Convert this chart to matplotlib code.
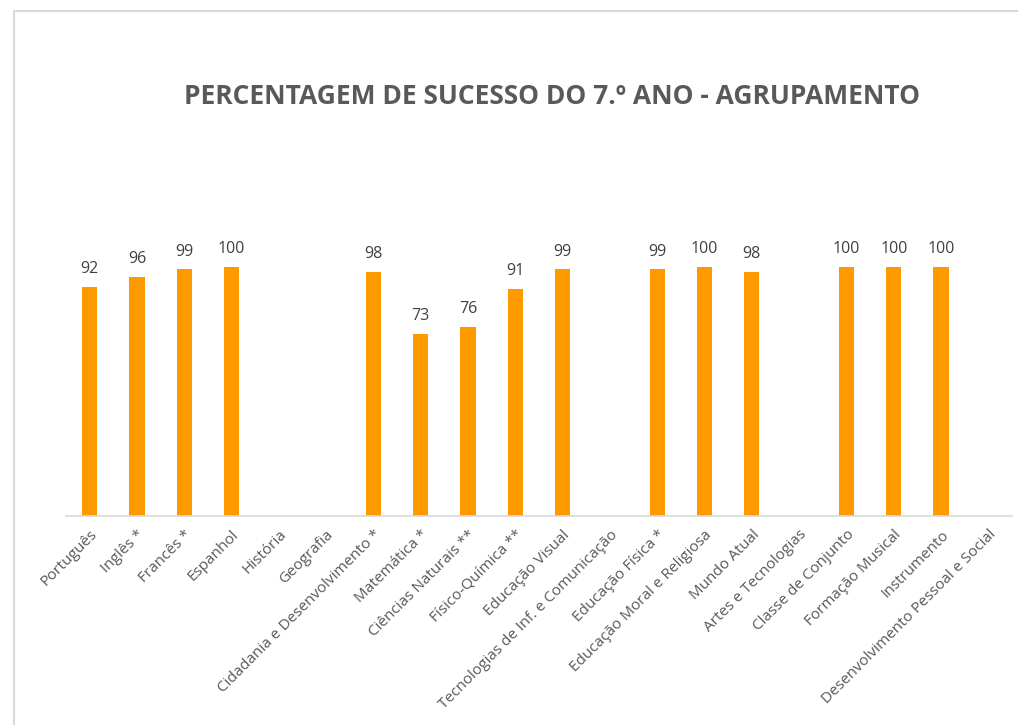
import numpy as np
import matplotlib.pyplot as plt
from matplotlib.patches import Rectangle

disciplinas = ['Português', 'Inglês *', 'Francês *', 'Espanhol', 'História', 'Geografia',
               'Cidadania e Desenvolvimento *', 'Matemática *', 'Ciências Naturais **',
               'Físico-Química **', 'Educação Visual', 'Tecnologias de Inf. e Comunicação',
               'Educação Física *', 'Educação Moral e Religiosa', 'Mundo Atual',
               'Artes e Tecnologias', 'Classe de Conjunto', 'Formação Musical',
               'Instrumento', 'Desenvolvimento Pessoal e Social']
sucesso = [92, 96, 99, 100, None, None, 98, 73, 76, 91, 99, None, 99, 100, 98, None,
           100, 100, 100, None]

plt.rcParams['font.family'] = ['Open Sans', 'DejaVu Sans']

fig = plt.figure(figsize=(10.18, 7.25), dpi=100)
# chart area border
fig.patches.append(Rectangle((14 / 1018, -0.1), 1.2, 1 - 11 / 725 + 0.1,
                             transform=fig.transFigure, fill=False,
                             edgecolor='#d9d9d9', linewidth=1.5))

ax = fig.add_axes([66 / 1018, 1 - 516 / 725, (1012 - 66) / 1018, 298.8 / 725])

x = np.arange(len(disciplinas))
vals = np.array([np.nan if v is None else v for v in sucesso], dtype=float)
bars = ax.bar(x, np.nan_to_num(vals), width=0.32, color='#ff9900')
for xi, v in zip(x, vals):
    if not np.isnan(v):
        ax.text(xi, v + 4, f'{int(v)}', ha='center', va='bottom',
                fontsize=11.5, color='#404040')

ax.set_xlim(-0.5, len(disciplinas) - 0.5)
ax.set_ylim(0, 120)
ax.set_yticks([])
for s in ['top', 'right', 'left']:
    ax.spines[s].set_visible(False)
ax.spines['bottom'].set_color('#d9d9d9')
ax.spines['bottom'].set_linewidth(1.2)
ax.set_xticks(x)
ax.set_xticklabels(disciplinas, rotation=45, ha='right', va='top',
                   rotation_mode='anchor', fontsize=11, color='#595959')
ax.tick_params(axis='x', length=0, pad=8)

fig.text(0.542, 1 - 96 / 725, 'PERCENTAGEM DE SUCESSO DO 7.º ANO - AGRUPAMENTO',
         ha='center', va='center', fontsize=19, fontweight='bold', color='#595959')

plt.savefig('out.png', dpi=100)
plt.close()
